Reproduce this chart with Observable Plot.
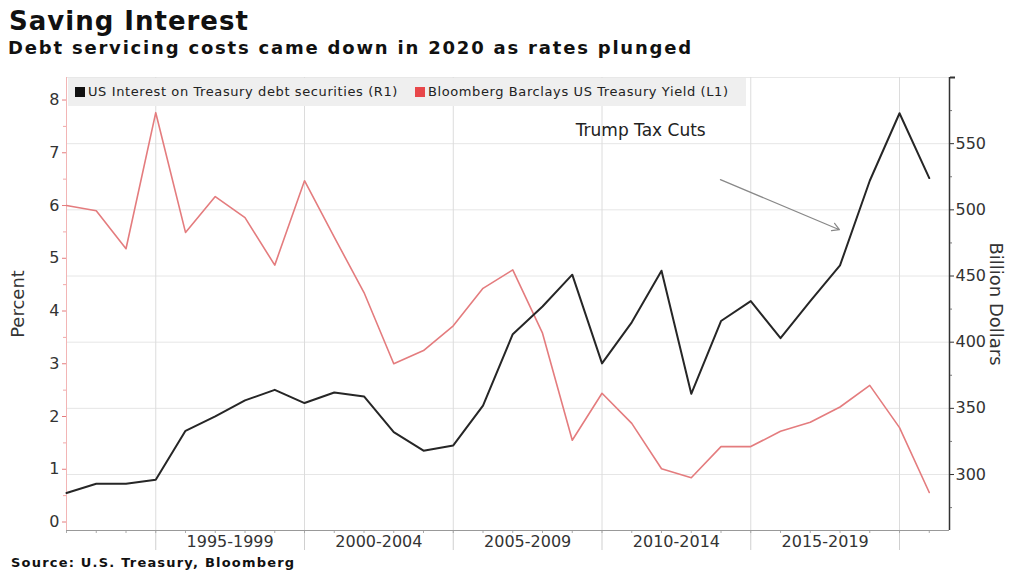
<!DOCTYPE html>
<html><head><meta charset="utf-8">
<script src="https://cdn.jsdelivr.net/npm/d3@7"></script>
<script src="https://cdn.jsdelivr.net/npm/@observablehq/plot@0.6"></script>
<style>
body{margin:0;background:#fff;}
#wrap{position:relative;width:1014px;height:572px;font-family:"DejaVu Sans",sans-serif;color:#111;overflow:hidden;}
#title{position:absolute;left:9px;top:6px;font-size:26px;letter-spacing:1px;font-weight:bold;white-space:nowrap;}
#subtitle{position:absolute;left:8px;top:37px;font-size:18px;letter-spacing:1.8px;font-weight:bold;white-space:nowrap;}
#chart{position:absolute;left:0;top:60px;}
#legend{position:absolute;left:68px;top:78px;width:678px;height:28px;background:#efefef;font-family:"DejaVu Sans",sans-serif;font-size:13px;letter-spacing:0.6px;color:#222;line-height:28px;white-space:nowrap;}
#legend .sw{display:inline-block;width:10px;height:10px;margin:0 3px 0 7px;vertical-align:-1px;}
#source{position:absolute;left:11px;top:555px;font-size:13px;letter-spacing:1.2px;font-weight:bold;white-space:nowrap;}
</style></head>
<body>
<div id="wrap">
  <div id="title">Saving Interest</div>
  <div id="subtitle">Debt servicing costs came down in 2020 as rates plunged</div>
  <div id="chart"></div>
  <div id="legend"></div>
  <div id="source">Source: U.S. Treasury, Bloomberg</div>
</div>
<script>
// ---- data ----
const years = [1991,1992,1993,1994,1995,1996,1997,1998,1999,2000,2001,2002,2003,2004,2005,2006,2007,2008,2009,2010,2011,2012,2013,2014,2015,2016,2017,2018,2019,2020];
const interestBn = [286,293,293,296,333,344,356,364,354,362,359,332,318,322,352,406,427,451,384,415,454,361,416,431,403,431,458,522,573,524];
const yieldPct = [6.00,5.90,5.18,7.76,5.49,6.17,5.77,4.87,6.47,5.40,4.35,3.00,3.25,3.72,4.43,4.78,3.58,1.55,2.44,1.87,1.01,0.84,1.43,1.43,1.72,1.89,2.18,2.59,1.79,0.56];
const periodStarts = [1995,2000,2005,2010,2015];
const periodLabels = ["1995-1999","2000-2004","2005-2009","2010-2014","2015-2019"];
const periodBounds = [1995,2000,2005,2010,2015,2020];
const rightTicks = [300,350,400,450,500,550];
const rightMinor = [275,325,375,425,475,525,575];
const leftTicks = [0,1,2,3,4,5,6,7,8];
const leftMinor = [0.5,1.5,2.5,3.5,4.5,5.5,6.5,7.5];
const seriesNames = ["US Interest on Treasury debt securities (R1)","Bloomberg Barclays US Treasury Yield (L1)"];
const seriesColors = ["#111111","#e8474a"];
const annotationText = "Trump Tax Cuts";
const annotation = {x: 2011.3, y: 560};
const arrowSpec = {x1: 2013.98, y1: 522.8, x2: 2017.98, y2: 485};

// ---- scales ----
const usdDomain = [257.7, 600];
const pctDomain = [-0.161, 8.427];
const xDomain = [1992, 2021.68];
const pct2usd = d3.scaleLinear().domain(pctDomain).range(usdDomain);
const pinkLine = "#e47c7e";

// values are year-end observations, plotted at the end of each year
const data = years.map((yr, i) => ({t: yr + 1, interest: interestBn[i], yld: pct2usd(yieldPct[i])}));

const chart = Plot.plot({
  width: 1014, height: 500,
  marginTop: 17, marginBottom: 30, marginLeft: 66, marginRight: 65,
  x: {domain: xDomain, axis: null},
  y: {domain: usdDomain, axis: null},
  style: {fontFamily: "DejaVu Sans, sans-serif", background: "transparent", overflow: "visible"},
  marks: [
    Plot.ruleY([usdDomain[1]], {stroke: "#e8e8e8"}),
    Plot.ruleY(rightTicks, {stroke: "#e6e6e6"}),
    Plot.ruleX(periodBounds, {stroke: "#dcdcdc"}),
    // x axis
    Plot.axisX(periodBounds, {tickSize: 20, tickFormat: () => "", stroke: "#cfcfcf", label: null}),
    Plot.axisX(years.map(y => y + 1), {tickSize: 3, tickFormat: () => "", stroke: "#aaa", label: null}),
    Plot.axisX(periodStarts.map(s => s + 2.5), {tickSize: 0, tickPadding: 5, fontSize: 16, fill: "#333",
      tickFormat: d => periodLabels[periodStarts.indexOf(d - 2.5)], label: null}),
    Plot.ruleY([usdDomain[0]], {stroke: "#999"}),
    // left axis (percent)
    Plot.ruleX([xDomain[0]], {stroke: "#f2b5b5"}),
    Plot.axisY(leftTicks.map(pct2usd), {anchor: "left", tickSize: 4, tickPadding: 3, stroke: pinkLine, fill: "#333", fontSize: 16,
      tickFormat: d => String(Math.round(pct2usd.invert(d))), label: null}),
    Plot.axisY(leftMinor.map(pct2usd), {anchor: "left", tickSize: 3, stroke: "#f0a8a8", tickFormat: () => "", label: null}),
    // right axis (billion dollars)
    Plot.ruleX([xDomain[1]], {stroke: "#333", strokeWidth: 1.5}),
    Plot.axisY(rightTicks, {anchor: "right", tickSize: 4, tickPadding: 2, stroke: "#333", fill: "#333", fontSize: 16, label: null}),
    Plot.axisY(rightMinor, {anchor: "right", tickSize: 2, stroke: "#777", tickFormat: () => "", label: null}),
    Plot.axisY([usdDomain[1]], {anchor: "right", tickSize: 5, stroke: "#333", strokeWidth: 2, tickFormat: () => "", label: null}),
    Plot.text(["Percent"], {frameAnchor: "left", dx: -48, rotate: -90, textAnchor: "middle", fontSize: 18, fill: "#333"}),
    Plot.text(["Billion Dollars"], {frameAnchor: "right", dx: 46, rotate: 90, textAnchor: "middle", fontSize: 18, fill: "#333"}),
    // annotation
    Plot.text([annotationText], {x: () => annotation.x, y: () => annotation.y, fontSize: 17, fill: "#222"}),
    Plot.arrow([arrowSpec], {x1: "x1", y1: "y1", x2: "x2", y2: "y2", stroke: "#888", strokeWidth: 1.2, headLength: 10}),
    // series
    Plot.line(data, {x: "t", y: "yld", stroke: pinkLine, strokeWidth: 1.6}),
    Plot.line(data, {x: "t", y: "interest", stroke: "#262626", strokeWidth: 2})
  ]
});
document.getElementById("chart").appendChild(chart);

const legend = document.getElementById("legend");
seriesNames.forEach((name, i) => {
  const sw = document.createElement("span");
  sw.className = "sw";
  sw.style.background = seriesColors[i];
  const tx = document.createElement("span");
  tx.textContent = name;
  tx.style.marginRight = "10px";
  legend.appendChild(sw);
  legend.appendChild(tx);
});
</script>
</body></html>
